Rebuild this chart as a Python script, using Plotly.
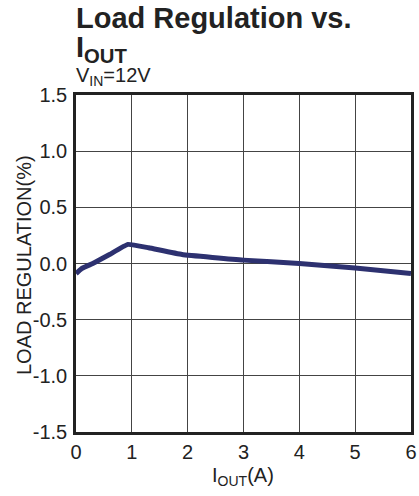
import plotly.graph_objects as go

# Data
iout = [0.0, 0.1, 0.3, 0.6, 0.93, 1.3, 1.9, 3.0, 4.0, 5.0, 6.0]
load_reg = [-0.09, -0.045, 0.0, 0.08, 0.17, 0.14, 0.08, 0.03, 0.0, -0.04, -0.09]

x_ticks = [0, 1, 2, 3, 4, 5, 6]
y_ticks = [-1.5, -1.0, -0.5, 0.0, 0.5, 1.0, 1.5]
y_tick_text = ["-1.5", "-1.0", "-0.5", "0.0", "0.5", "1.0", "1.5"]

FONT = "Liberation Sans, Arial, sans-serif"
TXT = "#222222"
T, B = 95, 432   # plot top / bottom in page pixels
L, R = 76, 411   # plot left / right in page pixels
H = B - T
W = R - L


def py(p):
    return (B - p) / H


def px(p):
    return (p - L) / W


fig = go.Figure()
fig.add_trace(go.Scatter(
    x=iout, y=load_reg, mode="lines",
    line=dict(color="#2d3170", width=5, shape="spline", smoothing=0.3),
    showlegend=False, hoverinfo="skip",
))

fig.update_layout(
    width=419, height=496,
    margin=dict(l=L, r=419 - R, t=T, b=496 - B),
    paper_bgcolor="white", plot_bgcolor="white",
    font=dict(family=FONT, color=TXT, size=20),
    xaxis=dict(
        range=[0, 6], tickvals=x_ticks, ticks="", automargin=False,
        showgrid=True, gridcolor="#444444", gridwidth=1,
        showline=True, linecolor="#222222", linewidth=2.5, mirror=True,
        zeroline=False, tickfont=dict(size=20, color=TXT),
    ),
    yaxis=dict(
        range=[-1.5, 1.5], tickvals=y_ticks, ticktext=y_tick_text, ticks="",
        automargin=False, ticklabelstandoff=2,
        showgrid=True, gridcolor="#444444", gridwidth=1,
        showline=True, linecolor="#222222", linewidth=2.5, mirror=True,
        zeroline=False, tickfont=dict(size=20, color=TXT),
    ),
    annotations=[
        dict(text="<b>Load Regulation vs.</b>", xref="paper", yref="paper",
             x=0, y=py(0), xanchor="left", yanchor="top", xshift=-2,
             showarrow=False, font=dict(size=29, color=TXT, family=FONT)),
        dict(text="<b>I<sub>OUT</sub></b>", xref="paper", yref="paper",
             x=0, y=py(29), xanchor="left", yanchor="top", xshift=-2,
             showarrow=False, font=dict(size=29, color=TXT, family=FONT)),
        dict(text="V<sub>IN</sub>=12V", xref="paper", yref="paper",
             x=0, y=py(62), xanchor="left", yanchor="top", xshift=-2,
             showarrow=False, font=dict(size=20, color=TXT, family=FONT)),
        dict(text="I<sub>OUT</sub>(A)", xref="paper", yref="paper",
             x=px(243), y=py(462), xanchor="center", yanchor="top",
             showarrow=False, font=dict(size=20, color=TXT, family=FONT)),
        dict(text="LOAD REGULATION(%)", xref="paper", yref="paper", textangle=-90,
             x=px(24), y=py(265), xanchor="center", yanchor="middle",
             showarrow=False, font=dict(size=20, color=TXT, family=FONT)),
    ],
)

fig.write_html("out.html", config={"displayModeBar": False},
               post_script="document.body.style.margin='0';")
